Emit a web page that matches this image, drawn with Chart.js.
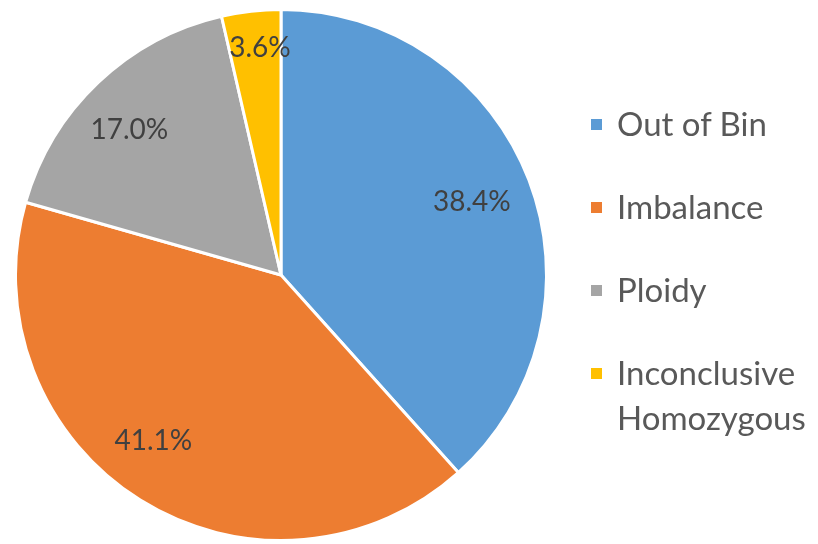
<!DOCTYPE html>
<html>
<head>
<meta charset="utf-8">
<script src="https://cdn.jsdelivr.net/npm/chart.js@4.4.1/dist/chart.umd.min.js"></script>
<style>
  html, body { margin: 0; padding: 0; background: #fff; }
  #wrap { position: relative; width: 818px; height: 544px; }
  #legend {
    position: absolute; left: 591px; top: 101px;
    display: flex; flex-direction: column; gap: 38px;
    font-family: Lato, "Noto Sans", sans-serif; font-size: 33px;
    color: #595959; line-height: 45px;
  }
  .item { display: flex; align-items: flex-start; }
  .box { width: 11px; height: 11px; margin-top: 18px; margin-right: 15px; flex: none; }
</style>
</head>
<body>
<div id="wrap">
  <canvas id="myChart" width="818" height="544"></canvas>
  <div id="legend"></div>
</div>
<script>
var labels = ['Out of Bin', 'Imbalance', 'Ploidy', 'Inconclusive Homozygous'];
var legendLines = [['Out of Bin'], ['Imbalance'], ['Ploidy'], ['Inconclusive', 'Homozygous']];
var values = [38.4, 41.1, 17.0, 3.6];
var colors = ['#5B9BD5', '#ED7D31', '#A5A5A5', '#FFC000'];
// label placement: fraction of radius, and nudge (degrees) off the slice middle
var labelRadius = [0.77, 0.79, 0.79, 0.86];
var labelNudge = [0, 5.5, -2.8, 1.2];

// legend
var leg = document.getElementById('legend');
for (let i = 0; i < labels.length; i++) {
  var item = document.createElement('DIV');
  item.setAttribute('class', 'item');
  var box = document.createElement('DIV');
  box.setAttribute('class', 'box');
  box.style.backgroundColor = colors[i];
  item.appendChild(box);
  var txt = document.createElement('DIV');
  txt.innerHTML = legendLines[i].join('<br>');
  item.appendChild(txt);
  leg.appendChild(item);
}

const pctLabels = {
  id: 'pctLabels',
  afterDatasetsDraw(chart) {
    const ctx = chart.ctx;
    const meta = chart.getDatasetMeta(0);
    ctx.save();
    ctx.font = '28px Lato, "Noto Sans", sans-serif';
    ctx.fillStyle = '#404040';
    ctx.textAlign = 'center';
    ctx.textBaseline = 'middle';
    meta.data.forEach(function(arc, i) {
      const p = arc.getProps(['x', 'y', 'startAngle', 'endAngle', 'outerRadius'], true);
      const mid = (p.startAngle + p.endAngle) / 2 + labelNudge[i] * Math.PI / 180;
      const r = p.outerRadius * labelRadius[i];
      ctx.fillText(values[i].toFixed(1) + '%', p.x + Math.cos(mid) * r, p.y + Math.sin(mid) * r);
    });
    ctx.restore();
  }
};

const myChart = new Chart(document.getElementById('myChart'), {
  type: 'pie',
  data: {
    labels: labels,
    datasets: [{
      data: values,
      backgroundColor: colors,
      borderColor: '#ffffff',
      borderWidth: 3
    }]
  },
  options: {
    responsive: false,
    animation: false,
    layout: { padding: { left: 14, right: 270, top: 8, bottom: 2 } },
    plugins: {
      legend: { display: false },
      tooltip: { enabled: false }
    }
  },
  plugins: [pctLabels]
});
</script>
</body>
</html>
